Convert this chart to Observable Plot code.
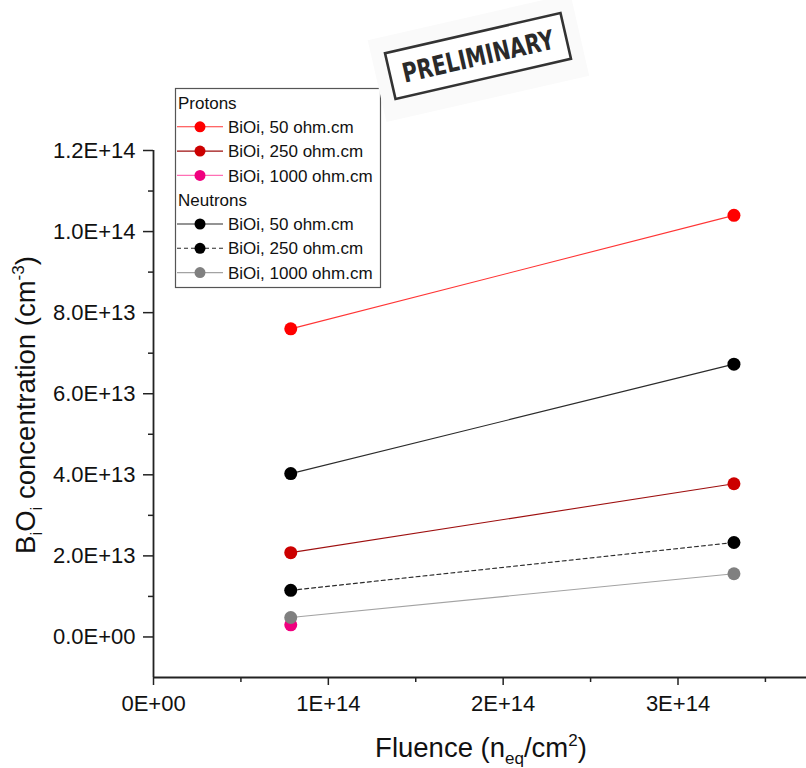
<!DOCTYPE html>
<html>
<head>
<meta charset="utf-8">
<script src="https://cdn.jsdelivr.net/npm/d3@7"></script>
<script src="https://cdn.jsdelivr.net/npm/@observablehq/plot@0.6"></script>
<style>
  body { margin: 0; background: #fff; }
  #chart { width: 806px; height: 768px; }
</style>
</head>
<body>
<div id="chart"></div>
<script>
// Fluence points (n_eq/cm^2)
const fluence = [7.85e13, 3.32e14];

// BiOi concentration (cm^-3) per irradiation and resistivity
const protons50 = [7.6e13, 1.04e14];
const protons250 = [2.08e13, 3.78e13];
const protons1000 = [3.0e12];
const neutrons50 = [4.03e13, 6.73e13];
const neutrons250 = [1.15e13, 2.33e13];
const neutrons1000 = [4.8e12, 1.56e13];

const groups = ["Protons", "Neutrons"];
const seriesLabels = ["BiOi, 50 ohm.cm", "BiOi, 250 ohm.cm", "BiOi, 1000 ohm.cm"];

const xTicks = [0, 1e14, 2e14, 3e14];
const xTickLabels = ["0E+00", "1E+14", "2E+14", "3E+14"];
const xMinorTicks = [5e13, 1.5e14, 2.5e14, 3.5e14];
const yTicks = [0, 2e13, 4e13, 6e13, 8e13, 1e14, 1.2e14];
const yTickLabels = ["0.0E+00", "2.0E+13", "4.0E+13", "6.0E+13", "8.0E+13", "1.0E+14", "1.2E+14"];
const yMinorTicks = [1e13, 3e13, 5e13, 7e13, 9e13, 1.1e14];

const series = [
  {group: groups[0], label: seriesLabels[0], values: protons50},
  {group: groups[0], label: seriesLabels[1], values: protons250},
  {group: groups[0], label: seriesLabels[2], values: protons1000},
  {group: groups[1], label: seriesLabels[0], values: neutrons50},
  {group: groups[1], label: seriesLabels[1], values: neutrons250},
  {group: groups[1], label: seriesLabels[2], values: neutrons1000}
];

// Symbol colour, line colour and dash pattern for each series
const seriesStyle = [
  {marker: "#ff0000", line: "#ff3535", dash: null},
  {marker: "#cc0000", line: "#9e0f0f", dash: null},
  {marker: "#f0007f", line: "#ff6fb5", dash: null},
  {marker: "#000000", line: "#2b2b2b", dash: null},
  {marker: "#000000", line: "#2b2b2b", dash: "4,3"},
  {marker: "#808080", line: "#a3a3a3", dash: null}
];

const rows = series.flatMap((s, k) =>
  s.values.map((v, i) => ({k, group: s.group, label: s.label, fluence: fluence[i], value: v}))
);

const FONT = "'Liberation Sans', Arial, sans-serif";
const AXIS = "#222";

const chart = Plot.plot({
  width: 806,
  height: 768,
  marginLeft: 153,
  marginRight: 0,
  marginTop: 150,
  marginBottom: 91,
  x: {domain: [0, 3.735e14], label: null},
  y: {domain: [-1e13, 1.2e14], label: null},
  color: {type: "identity"},
  style: {fontFamily: FONT, background: "#fff", color: "#111"},
  marks: [
    Plot.axisY(yMinorTicks, {tickSize: 5, tickFormat: () => "", stroke: AXIS, strokeWidth: 1.5, label: null}),
    Plot.axisY(yTicks, {
      tickSize: 10, tickPadding: 8, fontSize: 22, stroke: AXIS, strokeWidth: 1.5, label: null,
      tickFormat: d => yTickLabels[yTicks.indexOf(d)]
    }),
    Plot.axisX(xMinorTicks, {tickSize: 5, tickFormat: () => "", stroke: AXIS, strokeWidth: 1.5, label: null}),
    Plot.axisX(xTicks, {
      tickSize: 8, tickPadding: 10, fontSize: 22, stroke: AXIS, strokeWidth: 1.5, label: null,
      tickFormat: d => xTickLabels[xTicks.indexOf(d)]
    }),
    Plot.ruleX([0], {stroke: AXIS, strokeWidth: 1.8}),
    Plot.ruleY([-1e13], {stroke: AXIS, strokeWidth: 1.8}),
    Plot.line(rows.filter(d => !seriesStyle[d.k].dash), {
      x: "fluence", y: "value", z: "k", stroke: d => seriesStyle[d.k].line, strokeWidth: 1.1
    }),
    Plot.line(rows.filter(d => seriesStyle[d.k].dash), {
      x: "fluence", y: "value", z: "k", stroke: d => seriesStyle[d.k].line, strokeWidth: 1.1,
      strokeDasharray: "4,3"
    }),
    Plot.dot(rows, {x: "fluence", y: "value", r: 6.5, fill: d => seriesStyle[d.k].marker, stroke: null})
  ]
});

document.getElementById("chart").appendChild(chart);
const svg = d3.select(chart);

// Axis titles with sub/superscripts
const xt = svg.append("text")
  .attr("x", 481).attr("y", 757)
  .attr("text-anchor", "middle")
  .attr("font-family", FONT).attr("font-size", 27.5).attr("fill", "#111");
xt.append("tspan").text("Fluence (n");
xt.append("tspan").attr("font-size", 17).attr("dy", 7).text("eq");
xt.append("tspan").attr("dy", -7).text("/cm");
xt.append("tspan").attr("font-size", 17).attr("dy", -11).text("2");
xt.append("tspan").attr("dy", 11).text(")");

const yt = svg.append("text")
  .attr("transform", "translate(35,405) rotate(-90)")
  .attr("text-anchor", "middle")
  .attr("font-family", FONT).attr("font-size", 27.5).attr("fill", "#111");
yt.append("tspan").text("B");
yt.append("tspan").attr("font-size", 17).attr("dy", 7).text("i");
yt.append("tspan").attr("dy", -7).text("O");
yt.append("tspan").attr("font-size", 17).attr("dy", 7).text("i");
yt.append("tspan").attr("dy", -7).text(" concentration (cm");
yt.append("tspan").attr("font-size", 17).attr("dy", -11).text("-3");
yt.append("tspan").attr("dy", 11).text(")");

// Legend
const leg = svg.append("g")
  .attr("font-family", FONT).attr("font-size", 17).attr("fill", "#111")
  .attr("text-anchor", "start");
leg.append("rect")
  .attr("x", 175.5).attr("y", 88.5).attr("width", 205).attr("height", 199)
  .attr("fill", "#fff").attr("stroke", "#555").attr("stroke-width", 1.2);
const rowY = i => 102.5 + i * 24.3;
let row = 0;
groups.forEach(g => {
  leg.append("text").attr("x", 178).attr("y", rowY(row)).attr("dy", "0.36em").text(g);
  row++;
  series.forEach((s, k) => {
    if (s.group !== g) return;
    const st = seriesStyle[k];
    const y = rowY(row);
    leg.append("line")
      .attr("x1", 177).attr("x2", 223).attr("y1", y).attr("y2", y)
      .attr("stroke", st.line).attr("stroke-width", 1.1)
      .attr("stroke-dasharray", st.dash);
    leg.append("circle").attr("cx", 200).attr("cy", y).attr("r", 5.5).attr("fill", st.marker);
    leg.append("text").attr("x", 228).attr("y", y).attr("dy", "0.36em").text(s.label);
    row++;
  });
});

// PRELIMINARY stamp
const stamp = svg.append("g").attr("transform", "translate(478,56) rotate(-12.9)");
stamp.append("rect")
  .attr("x", -104).attr("y", -40).attr("width", 208).attr("height", 84)
  .attr("fill", "#fafafa");
stamp.append("rect")
  .attr("x", -90).attr("y", -23.5).attr("width", 180).attr("height", 47)
  .attr("fill", "#fff").attr("stroke", "#333").attr("stroke-width", 2.6);
stamp.append("text")
  .attr("text-anchor", "middle").attr("dy", "0.36em")
  .attr("font-family", "'DejaVu Sans Condensed', 'DejaVu Sans', sans-serif")
  .attr("font-weight", "bold").attr("font-size", 27).attr("fill", "#2a2a2a")
  .attr("textLength", 155).attr("lengthAdjust", "spacingAndGlyphs")
  .text("PRELIMINARY");
</script>
</body>
</html>
